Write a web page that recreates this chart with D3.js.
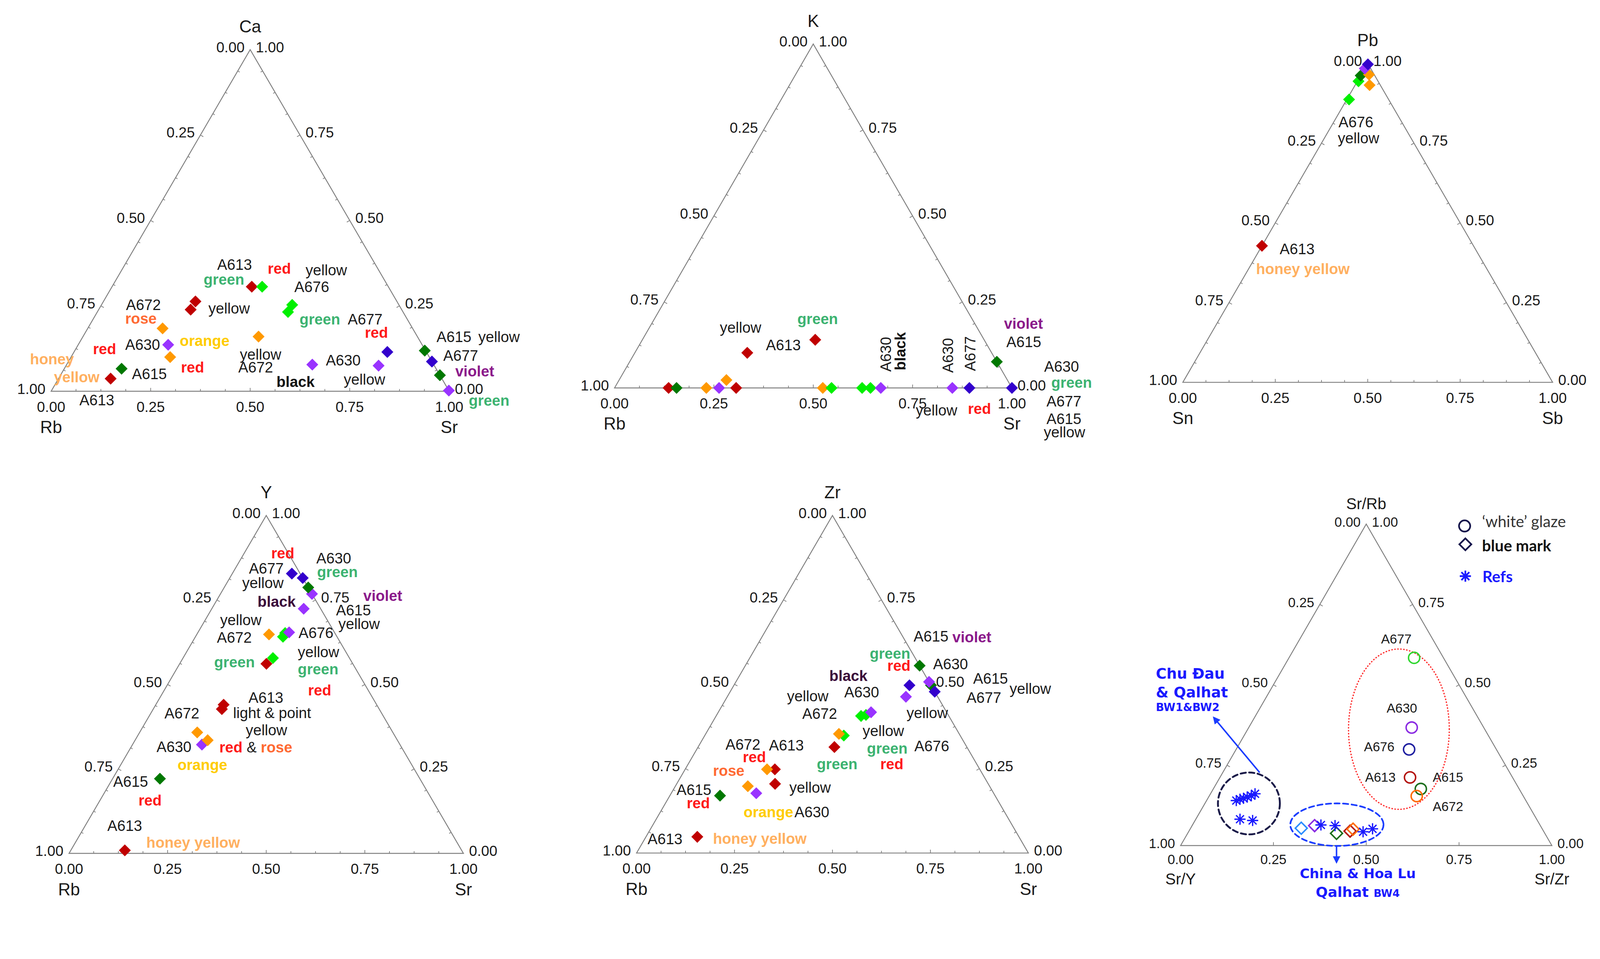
<!DOCTYPE html>
<html>
<head>
<meta charset="utf-8">
<script src="https://cdn.jsdelivr.net/npm/d3@7.9.0/dist/d3.min.js"></script>
<style>
  html, body { margin: 0; padding: 0; background: #fff; overflow: hidden; }
  svg { display: block; width: 100vw; height: 100vh; }
</style>
</head>
<body>
<svg id="chart" viewBox="0 0 4288 2456" preserveAspectRatio="xMidYMin meet"></svg>
<script>
// ---- data: [group, top, left, right] ----
const caRbSr = [
  ['darkred', .037, .832, .131], ['darkgreen', .066, .790, .144], ['orange', .100, .651, .249],
  ['violet', .136, .638, .226], ['orange', .184, .628, .188], ['darkred', .239, .530, .231],
  ['darkred', .263, .506, .231], ['darkred', .306, .343, .351], ['lime', .306, .317, .377],
  ['lime', .253, .268, .479], ['lime', .232, .289, .479], ['orange', .160, .399, .441],
  ['violet', .078, .305, .617], ['violet', .075, .140, .785], ['blue', .115, .098, .787],
  ['darkgreen', .119, .002, .879], ['blue', .087, .000, .913], ['darkgreen', .047, .000, .953],
  ['violet', .002, .000, .998]
];
const kRbSr = [
  ['darkred', 0, .864, .136], ['darkgreen', 0, .844, .156], ['orange', 0, .769, .231],
  ['violet', 0, .737, .263], ['darkred', 0, .694, .306], ['orange', 0, .476, .524],
  ['lime', 0, .454, .546], ['lime', 0, .377, .623], ['lime', 0, .356, .644],
  ['violet', 0, .330, .670], ['violet', 0, .150, .850], ['blue', 0, .107, .893],
  ['blue', 0, .000, 1.0], ['orange', .023, .707, .270], ['darkred', .102, .615, .283],
  ['darkred', .140, .425, .435], ['darkgreen', .076, .000, .924]
];
const pbSnSb = [
  ['lime', .887, .107, .006], ['orange', .932, .029, .039], ['lime', .944, .053, .003],
  ['darkgreen', .962, .038, .000], ['orange', .965, .014, .021], ['violet', .984, .016, .000],
  ['blue', .997, .001, .002], ['darkred', .428, .572, .000]
];
const yRbSr = [
  ['darkred', .009, .854, .137], ['darkgreen', .221, .659, .120], ['violet', .322, .502, .176],
  ['orange', .335, .481, .184], ['orange', .358, .496, .146], ['darkred', .427, .399, .174],
  ['darkred', .440, .388, .172], ['darkred', .561, .219, .220], ['lime', .578, .194, .228],
  ['lime', .641, .137, .222], ['lime', .652, .126, .222], ['violet', .654, .115, .231],
  ['orange', .648, .169, .183], ['violet', .724, .043, .233], ['violet', .768, .000, .232],
  ['darkgreen', .787, .000, .213], ['blue', .815, .000, .185], ['blue', .828, .021, .151]
];
const zrRbSr = [
  ['darkred', .048, .821, .131], ['darkgreen', .170, .702, .128], ['violet', .177, .606, .217],
  ['orange', .198, .617, .185], ['darkred', .205, .544, .251], ['darkred', .248, .523, .229],
  ['orange', .248, .543, .209], ['darkred', .314, .338, .348], ['lime', .348, .297, .355],
  ['orange', .353, .307, .340], ['lime', .406, .224, .370], ['lime', .409, .210, .381],
  ['violet', .417, .193, .390], ['violet', .463, .081, .456], ['blue', .497, .055, .448],
  ['darkgreen', .497, .000, .503], ['blue', .478, .000, .522], ['violet', .507, .000, .493],
  ['darkgreen', .555, .000, .445]
];
// Sr/Rb (top), Sr/Y (left), Sr/Zr (right)
const whiteGlaze = [
  ['lime', .584, .079, .337], ['violet', .367, .194, .439], ['blue', .299, .235, .466],
  ['darkred', .212, .276, .512], ['darkgreen', .176, .265, .559], ['orangered', .154, .287, .559]
];
const blueMark = [
  ['dodger', .054, .648, .298], ['violet', .062, .608, .330], ['darkgreen', .038, .561, .401],
  ['darkred', .045, .521, .434], ['orangered', .051, .510, .439]
];
const refs = [
  [.140, .780, .080], [.144, .768, .088], [.147, .757, .096], [.151, .745, .104],
  [.155, .732, .113], [.161, .719, .120], [.082, .799, .119], [.078, .767, .155],
  [.064, .590, .346], [.062, .553, .385], [.043, .487, .470], [.052, .457, .491]
];
const tickLabels = [0, .25, .5, .75, 1];

// ---- annotations: [text, x along base, height fraction, style, rotate] ----
const caNotes = [
  ['A613', .417, .355, 'k'], ['red', .544, .344, 'red'], ['yellow', .639, .340, 'k'],
  ['green', .383, .312, 'green'], ['A676', .611, .290, 'k'], ['A672', .188, .238, 'k'],
  ['yellow', .395, .227, 'k'], ['rose', .186, .198, 'rose'], ['green', .624, .195, 'green'],
  ['A677', .745, .195, 'k'], ['red', .788, .157, 'red'], ['A615', .968, .144, 'k'],
  ['yellow', 1.073, .144, 'k'], ['A630', .186, .121, 'k'], ['orange', .323, .133, 'orange'],
  ['red', .105, .109, 'red'], ['honey', -.053, .079, 'honey'], ['yellow', .474, .093, 'k'],
  ['A630', .690, .075, 'k'], ['A677', .985, .089, 'k'], ['red', .326, .055, 'red'],
  ['A672', .470, .055, 'k'], ['violet', 1.015, .044, 'violet'], ['A615', .203, .036, 'k'],
  ['yellow', .007, .026, 'honey'], ['black', .566, .013, 'blackb'], ['yellow', .735, .020, 'k'],
  ['A613', .071, -.041, 'k'], ['green', 1.049, -.042, 'green']
];
const kNotes = [
  ['yellow', .265, .161, 'k'], ['green', .460, .186, 'green'], ['A613', .381, .110, 'k'],
  ['A630', .696, .047, 'k', -90], ['black', .732, .051, 'blackb', -90],
  ['A630', .852, .044, 'k', -90], ['A677', .908, .049, 'k', -90],
  ['violet', .980, .172, 'violet'], ['A615', .986, .119, 'k'], ['A630', 1.081, .047, 'k'],
  ['green', 1.099, .000, 'green'], ['A677', 1.087, -.054, 'k'], ['A615', 1.087, -.105, 'k'],
  ['yellow', 1.080, -.144, 'k'], ['yellow', .758, -.080, 'k'], ['red', .889, -.076, 'red']
];
const pbNotes = [
  ['A676', .421, .800, 'k'], ['yellow', .419, .750, 'k'], ['A613', .262, .402, 'k'],
  ['honey yellow', .198, .339, 'honey']
];
const yNotes = [
  ['red', .5125, .873, 'red'], ['A630', .627, .858, 'k'], ['A677', .456, .828, 'k'],
  ['green', .629, .817, 'green'], ['yellow', .439, .785, 'k'], ['violet', .746, .747, 'violet'],
  ['black', .478, .730, 'blackp'], ['A615', .677, .704, 'k'], ['yellow', .683, .664, 'k'],
  ['yellow', .383, .676, 'k'], ['A676', .582, .637, 'k'], ['A672', .375, .624, 'k'],
  ['yellow', .580, .581, 'k'], ['green', .368, .551, 'green'], ['green', .580, .530, 'green'],
  ['red', .606, .468, 'red'], ['A613', .455, .446, 'k'], ['light & point', .416, .401, 'k'],
  ['A672', .242, .399, 'k'], ['yellow', .448, .350, 'k'], ['A630', .222, .300, 'k'],
  ['red & rose', .381, .299, 'redrose'], ['orange', .275, .247, 'orange'],
  ['A615', .112, .197, 'k'], ['red', .176, .142, 'red'], ['A613', .097, .066, 'k'],
  ['honey yellow', .196, .017, 'honey']
];
const zrNotes = [
  ['A615', .707, .626, 'k'], ['violet', .806, .624, 'violet'], ['green', .595, .576, 'green'],
  ['red', .640, .540, 'red'], ['A630', .757, .544, 'k'], ['black', .492, .510, 'blackp'],
  ['A615', .859, .501, 'k'], ['yellow', .952, .471, 'k'], ['yellow', .384, .450, 'k'],
  ['A630', .530, .461, 'k'], ['A677', .842, .445, 'k'], ['A672', .423, .398, 'k'],
  ['yellow', .689, .400, 'k'], ['yellow', .577, .347, 'k'], ['A672', .227, .306, 'k'],
  ['A613', .338, .304, 'k'], ['green', .588, .295, 'green'], ['A676', .709, .301, 'k'],
  ['red', .271, .269, 'red'], ['green', .460, .248, 'green'], ['red', .622, .248, 'red'],
  ['rose', .195, .229, 'rose'], ['yellow', .390, .179, 'k'], ['A615', .102, .172, 'k'],
  ['red', .128, .132, 'red'], ['orange', .273, .106, 'orange'], ['A630', .403, .106, 'k'],
  ['A613', .028, .026, 'k'], ['honey yellow', .195, .027, 'honey']
];
const ratioNotes = [
  ['A677', .540, .628, 'k'], ['A630', .555, .414, 'k'], ['A676', .494, .293, 'k'],
  ['A613', .497, .198, 'k'], ['A615', .679, .198, 'k'], ['A672', .679, .108, 'k']
];

const fill = {
  darkred: '#c00000', darkgreen: '#007800', lime: '#00f000',
  orange: '#ff9900', violet: '#9933ff', blue: '#3300cc'
};
const ring = {
  lime: '#2fd62f', violet: '#8a2be2', blue: '#1f1fa0', darkred: '#b3130f',
  darkgreen: '#1c6e1c', orangered: '#ff6a00', dodger: '#2a8cff'
};
const styles = {
  k: ['#1a1a1a', 'normal'], red: ['#ff1a1a', 'bold'], green: ['#3cb371', 'bold'],
  violet: ['#8b1a8b', 'bold'], blackb: ['#111', 'bold'], blackp: ['#3a0a3a', 'bold'],
  orange: ['#ffcc00', 'bold'], rose: ['#ff6a33', 'bold'], honey: ['#ffb060', 'bold']
};
const FONT = '"Liberation Sans", Arial, sans-serif';

const panels = [
  { data: caRbSr, names: ['Ca', 'Rb', 'Sr'], x0: 137, x1: 1204, yB: 1049, yA: 133, notes: caNotes },
  { data: kRbSr, names: ['K', 'Rb', 'Sr'], x0: 1647, x1: 2712, yB: 1040, yA: 118, notes: kNotes },
  { data: pbSnSb, names: ['Pb', 'Sn', 'Sb'], x0: 3170, x1: 4161, yB: 1025, yA: 170, notes: pbNotes },
  { data: yRbSr, names: ['Y', 'Rb', 'Sr'], x0: 185, x1: 1242, yB: 2288, yA: 1382, notes: yNotes },
  { data: zrRbSr, names: ['Zr', 'Rb', 'Sr'], x0: 1706, x1: 2756, yB: 2287, yA: 1382, notes: zrNotes },
  { data: null, names: ['Sr/Rb', 'Sr/Y', 'Sr/Zr'], x0: 3164, x1: 4159, yB: 2267, yA: 1405,
    notes: ratioNotes, small: true }
];

const svg = d3.select('#chart');
svg.append('rect').attr('width', 4288).attr('height', 2456).attr('fill', '#fff');

const defs = svg.append('defs');
defs.append('marker').attr('id', 'arrow').attr('viewBox', '0 0 10 10')
  .attr('refX', 8).attr('refY', 5).attr('markerWidth', 5).attr('markerHeight', 5)
  .attr('orient', 'auto-start-reverse')
  .append('path').attr('d', 'M0,0L10,5L0,10Z').attr('fill', '#1a3cff');

const diamond = (r) => `M0,${-r}L${r},0L0,${r}L${-r},0Z`;
const asterisk = (r) => {
  let d = '';
  for (let k = 0; k < 4; k++) {
    const a = k * Math.PI / 4, dx = r * Math.cos(a), dy = r * Math.sin(a);
    d += `M${-dx},${-dy}L${dx},${dy}`;
  }
  return d;
};

function writeNote(g, n, xs, ys, size) {
  const [txt, xf, h, st, rot] = n;
  const t = g.append('text').attr('font-family', FONT).attr('font-size', size);
  if (rot) {
    t.attr('transform', `translate(${xs(xf)},${ys(h)}) rotate(${rot})`);
  } else {
    t.attr('x', xs(xf)).attr('y', ys(h));
  }
  if (st === 'redrose') {
    t.append('tspan').attr('fill', styles.red[0]).attr('font-weight', 'bold').text('red');
    t.append('tspan').attr('fill', styles.k[0]).text(' & ');
    t.append('tspan').attr('fill', styles.rose[0]).attr('font-weight', 'bold').text('rose');
  } else {
    t.attr('fill', styles[st][0]).attr('font-weight', styles[st][1]).text(txt);
  }
}

panels.forEach((p) => {
  const g = svg.append('g');
  const xs = d3.scaleLinear().domain([0, 1]).range([p.x0, p.x1]);
  const ys = d3.scaleLinear().domain([0, 1]).range([p.yB, p.yA]);
  const pt = (top, right) => [xs(right + top / 2), ys(top)];
  const tfs = p.small ? 36 : 39, nfs = p.small ? 35 : 40, afs = p.small ? 42 : 46;

  // frame
  g.append('path').attr('d', d3.line()([pt(0, 0), pt(0, 1), pt(1, 0)]) + 'Z')
    .attr('fill', 'none').attr('stroke', '#808080').attr('stroke-width', 2.5);

  // ticks
  const ticks = p.small ? [.25, .5, .75] : d3.range(1, 16).map((i) => i / 16);
  const normals = [[0, -1], [0.866, 0.5], [-0.866, 0.5]];
  ticks.forEach((t) => {
    const len = Math.abs(t * 4 - Math.round(t * 4)) < 1e-9 ? 9 : 6;
    [pt(0, t), pt(t, 0), pt(t, 1 - t)].forEach((q, i) => {
      g.append('line').attr('x1', q[0]).attr('y1', q[1])
        .attr('x2', q[0] + normals[i][0] * len).attr('y2', q[1] + normals[i][1] * len)
        .attr('stroke', '#808080').attr('stroke-width', 2);
    });
  });

  // tick labels
  const lab = g.append('g').attr('font-family', FONT).attr('font-size', tfs).attr('fill', '#1a1a1a');
  tickLabels.forEach((t) => {
    lab.append('text').attr('x', xs(t)).attr('y', p.yB + (p.small ? 50 : 55))
      .attr('text-anchor', 'middle').text(t.toFixed(2));
    const l = pt(t, 0);
    lab.append('text').attr('x', l[0] - 15).attr('y', l[1] + 7)
      .attr('text-anchor', 'end').text((1 - t).toFixed(2));
    const r = pt(t, 1 - t);
    lab.append('text').attr('x', r[0] + 15).attr('y', r[1] + 7).text(t.toFixed(2));
  });

  // vertex names
  const ax = g.append('g').attr('font-family', FONT).attr('font-size', afs)
    .attr('fill', '#1a1a1a').attr('text-anchor', 'middle');
  ax.append('text').attr('x', xs(0.5)).attr('y', p.yA - (p.small ? 40 : 46)).text(p.names[0]);
  ax.append('text').attr('x', xs(0)).attr('y', p.yB + (p.small ? 104 : 112)).text(p.names[1]);
  ax.append('text').attr('x', xs(1)).attr('y', p.yB + (p.small ? 104 : 112)).text(p.names[2]);

  p.notes.forEach((n) => writeNote(g, n, xs, ys, nfs));

  if (p.data) {
    g.selectAll('path.pt').data(p.data).join('path').attr('class', 'pt')
      .attr('d', diamond(16))
      .attr('transform', (d) => `translate(${pt(d[1], d[3])})`)
      .attr('fill', (d) => fill[d[0]]);
    return;
  }

  // ---- Sr ratio panel extras ----
  const at = (xf, h) => [xs(xf), ys(h)];
  const side = p.x1 - p.x0;
  const ell = (cx, h, rx, ry, col, w, dash) => {
    const c = at(cx, h);
    g.append('ellipse').attr('cx', c[0]).attr('cy', c[1])
      .attr('rx', rx * side).attr('ry', ry * side)
      .attr('fill', 'none').attr('stroke', col).attr('stroke-width', w)
      .attr('stroke-dasharray', dash).attr('stroke-linecap', 'round');
  };
  ell(.588, .362, .1357, .216, '#ff2a2a', 3.5, '1 7');
  ell(.184, .131, .0834, .0834, '#1a1a48', 5, '14 9');
  ell(.421, .065, .1256, .0573, '#1a3cff', 4.5, '14 9');

  const arrow = (a, b) => {
    g.append('line').attr('x1', a[0]).attr('y1', a[1]).attr('x2', b[0]).attr('y2', b[1])
      .attr('stroke', '#1a3cff').attr('stroke-width', 4).attr('marker-end', 'url(#arrow)');
  };
  arrow(at(.213, .227), at(.0894, .398));
  arrow(at(.42, -.002), at(.42, -.052));

  g.selectAll('circle.wg').data(whiteGlaze).join('circle').attr('class', 'wg')
    .attr('cx', (d) => pt(d[1], d[3])[0]).attr('cy', (d) => pt(d[1], d[3])[1]).attr('r', 15)
    .attr('fill', 'none').attr('stroke', (d) => ring[d[0]]).attr('stroke-width', 4);
  g.selectAll('path.bm').data(blueMark).join('path').attr('class', 'bm')
    .attr('d', diamond(16)).attr('transform', (d) => `translate(${pt(d[1], d[3])})`)
    .attr('fill', 'none').attr('stroke', (d) => ring[d[0]]).attr('stroke-width', 4);
  g.selectAll('path.rf').data(refs).join('path').attr('class', 'rf')
    .attr('d', asterisk(15)).attr('transform', (d) => `translate(${pt(d[0], d[2])})`)
    .attr('fill', 'none').attr('stroke', '#1a1aff').attr('stroke-width', 3.5);

  // legend
  const lg = g.append('g').attr('font-family', 'Lato, "Open Sans", sans-serif').attr('font-size', 42);
  const c1 = at(.765, .994), c2 = at(.767, .937), c3 = at(.767, .838);
  lg.append('circle').attr('cx', c1[0]).attr('cy', c1[1]).attr('r', 15)
    .attr('fill', 'none').attr('stroke', '#12124a').attr('stroke-width', 4.5);
  lg.append('path').attr('d', diamond(16)).attr('transform', `translate(${c2})`)
    .attr('fill', 'none').attr('stroke', '#12124a').attr('stroke-width', 4.5);
  lg.append('path').attr('d', asterisk(15)).attr('transform', `translate(${c3})`)
    .attr('fill', 'none').attr('stroke', '#1a1aff').attr('stroke-width', 4.5);
  lg.append('text').attr('x', xs(.812)).attr('y', ys(.990)).attr('fill', '#333').text('\u2018white\u2019 glaze');
  lg.append('text').attr('x', xs(.812)).attr('y', ys(.915)).attr('fill', '#111')
    .attr('font-weight', 'bold').text('blue mark');
  lg.append('text').attr('x', xs(.813)).attr('y', ys(.819)).attr('fill', '#1a1aff')
    .attr('font-weight', 'bold').text('Refs');

  // reference group labels
  const bl = g.append('g').attr('font-family', '"DejaVu Sans", sans-serif')
    .attr('font-weight', 'bold').attr('fill', '#1a1aff');
  bl.append('text').attr('x', xs(-.0666)).attr('y', ys(.5197)).attr('font-size', 39).text('Chu Đau');
  bl.append('text').attr('x', xs(-.0666)).attr('y', ys(.4611)).attr('font-size', 39).text('& Qalhat');
  bl.append('text').attr('x', xs(-.0666)).attr('y', ys(.418)).attr('font-size', 29).text('BW1&BW2');
  bl.append('text').attr('x', xs(.4772)).attr('y', ys(-.102)).attr('font-size', 36)
    .attr('text-anchor', 'middle').text('China & Hoa Lu');
  const q = bl.append('text').attr('x', xs(.4772)).attr('y', ys(-.160)).attr('font-size', 38)
    .attr('text-anchor', 'middle');
  q.append('tspan').text('Qalhat ');
  q.append('tspan').attr('font-size', 28).text('BW4');
});
</script>
</body>
</html>
